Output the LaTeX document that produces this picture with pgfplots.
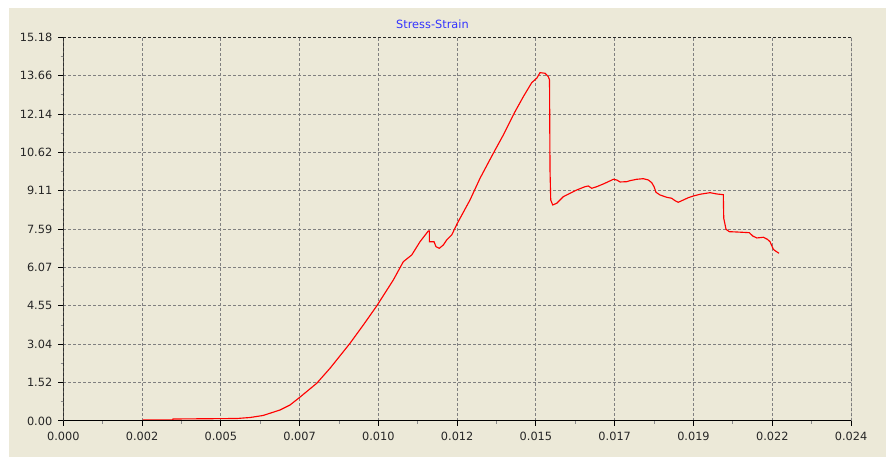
\documentclass[border=0pt]{standalone}
\usepackage{pgfplots}
\pgfplotsset{compat=1.18}
\usepackage{fontspec}
\setmainfont{DejaVu Sans}
\definecolor{panel}{RGB}{236,233,216}
\definecolor{titleblue}{RGB}{51,51,255}
\definecolor{curve}{RGB}{255,0,0}

\begin{document}
\begin{tikzpicture}
\useasboundingbox (0,0) rectangle (664.5pt,342.75pt);
\fill[panel] (6.75pt,0) rectangle (664.5pt,336.75pt);
\begin{axis}[
    at={(47.475pt,27pt)}, anchor=south west,
    scale only axis,
    width=590.8pt, height=287.8pt,
    xmin=0, xmax=0.0243,
    ymin=0, ymax=15.18,
    xtick={0,0.00243,0.00486,0.00729,0.00972,0.01215,0.01458,0.01701,0.01944,0.02187,0.0243},
    xticklabels={0.000,0.002,0.005,0.007,0.010,0.012,0.015,0.017,0.019,0.022,0.024},
    ytick={0,1.518,3.036,4.554,6.072,7.59,9.108,10.626,12.144,13.662,15.18},
    yticklabels={0.00,1.52,3.04,4.55,6.07,7.59,9.11,10.62,12.14,13.66,15.18},
    scaled x ticks=false,
    xtick pos=bottom, ytick pos=left,
    tick align=outside,
    major tick length=3.75pt,
    minor tick length=2pt,
    minor x tick num=1, minor y tick num=1,
    tick style={black, line width=0.75pt},
    minor tick style={black!45, line width=0.75pt},
    grid=major,
    major grid style={draw=black!50, line width=0.75pt, dash pattern=on 2.25pt off 1.5pt},
    axis line style={draw=none},
    tick label style={font=\fontsize{8.5}{10}\selectfont, text=black!85},
    yticklabel style={xshift=-1pt},
    xticklabel style={yshift=-1pt},
    title={Stress-Strain},
    every axis title shift=0pt,
    title style={at={(0.4686,1)}, anchor=center, yshift=10pt, text=titleblue, font=\fontsize{8.5}{10}\selectfont},
]
\draw[black!85, line width=0.75pt, dash pattern=on 2.25pt off 1.5pt] (rel axis cs:0,1) -- (rel axis cs:1,1) -- (rel axis cs:1,0);
\addplot[curve, line width=0.85pt, no markers] coordinates {
(0.002449,0.040) (0.003375,0.040) (0.003384,0.079) (0.005359,0.099)
(0.005760,0.138) (0.006161,0.218) (0.006685,0.435) (0.006993,0.633)
(0.007280,0.922) (0.007817,1.491) (0.008227,2.085) (0.008844,3.074)
(0.009255,3.798) (0.009668,4.550) (0.010180,5.578) (0.010489,6.302)
(0.010748,6.567) (0.011004,7.093) (0.011260,7.517) (0.011291,7.517)
(0.011291,7.093) (0.011436,7.093) (0.011497,6.896) (0.011599,6.832)
(0.011723,6.963) (0.011827,7.161) (0.011982,7.359) (0.012155,7.821)
(0.012546,8.743) (0.012855,9.602) (0.013265,10.591) (0.013574,11.315)
(0.013935,12.237) (0.014191,12.830) (0.014450,13.384) (0.014604,13.558)
(0.014706,13.780) (0.014860,13.756) (0.014962,13.621) (0.014999,13.491)
(0.015014,9.930) (0.015036,8.743) (0.015097,8.545) (0.015221,8.613)
(0.015425,8.874) (0.015631,9.008) (0.015838,9.139) (0.016094,9.269)
(0.016196,9.297) (0.016301,9.206) (0.016455,9.269) (0.016658,9.376)
(0.016813,9.467) (0.016967,9.562) (0.017072,9.534) (0.017174,9.455)
(0.017380,9.467) (0.017482,9.507) (0.017689,9.562) (0.017892,9.586)
(0.018047,9.534) (0.018152,9.428) (0.018223,9.269) (0.018284,9.048)
(0.018408,8.941) (0.018614,8.850) (0.018768,8.811) (0.018870,8.716)
(0.018972,8.652) (0.019126,8.743) (0.019281,8.834) (0.019435,8.901)
(0.019641,8.969) (0.019950,9.032) (0.020157,8.981) (0.020360,8.953)
(0.020373,8.019) (0.020444,7.584) (0.020545,7.489) (0.020774,7.477)
(0.021162,7.450) (0.021267,7.319) (0.021391,7.240) (0.021594,7.268)
(0.021718,7.188) (0.021801,7.093) (0.021903,6.793) (0.021955,6.737)
(0.022079,6.634)
};
\draw[black, line width=1.6pt] (rel axis cs:0,1) -- (rel axis cs:0,0) -- (rel axis cs:1,0);
\end{axis}
\end{tikzpicture}
\end{document}
